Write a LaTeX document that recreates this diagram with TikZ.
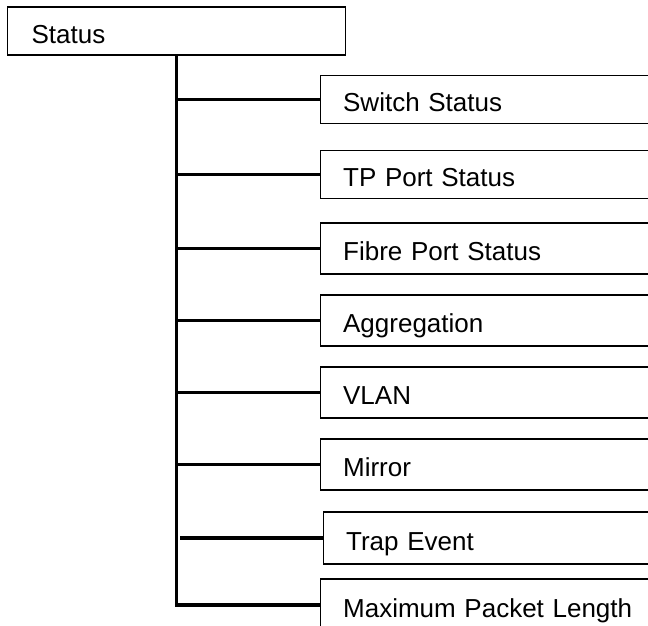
\documentclass[tikz,border=0pt]{standalone}
\usepackage{fontspec}
\setmainfont{Liberation Sans}
\begin{document}
\begin{tikzpicture}[x=1pt,y=-1pt,
    menubox/.style={draw,line width=1.3pt,anchor=west,minimum width=345pt,minimum height=48pt,
        inner xsep=22pt,text width=300pt,align=left,text height=24pt,text depth=0pt,
        font=\fontsize{26}{30}\selectfont},
    branch/.style={line width=3.2pt}]
        \useasboundingbox (0,0) rectangle (648,625);
        \clip (0,0) rectangle (648,625);
        \node[menubox,minimum width=338pt,inner xsep=21pt,text width=290pt] (status) at (7,31) {Status};
        % sub menus
        \node[menubox] (switch) at (320,99.5) {Switch Status};
        \node[menubox] (tp) at (320,174.5) {TP Port Status};
        \node[menubox,minimum height=51pt] (fibre) at (320,248.5) {Fibre Port Status};
        \node[menubox,minimum height=51pt] (aggr) at (320,320.5) {Aggregation};
        \node[menubox,minimum height=51pt] (vlan) at (320,392.5) {VLAN};
        \node[menubox,minimum height=51pt] (mirror) at (320,464.5) {Mirror};
        \node[menubox,minimum height=52pt,inner xsep=19pt] (trap) at (323,538) {Trap Event};
        \node[menubox,minimum height=52pt] (maxlen) at (320,605) {Maximum Packet Length};
        \draw[branch] (status.south) |- (maxlen.west);
        \draw[branch] (status.south |- switch.west) -- (switch.west);
        \draw[branch] (status.south |- tp.west) -- (tp.west);
        \draw[branch] (status.south |- fibre.west) -- (fibre.west);
        \draw[branch] (status.south |- aggr.west) -- (aggr.west);
        \draw[branch] (status.south |- vlan.west) -- (vlan.west);
        \draw[branch] (status.south |- mirror.west) -- (mirror.west);
        \coordinate (trapstart) at (180,538);
        \draw[branch,line width=3.8pt] (trapstart) -- (trap.west);
\end{tikzpicture}
\end{document}
